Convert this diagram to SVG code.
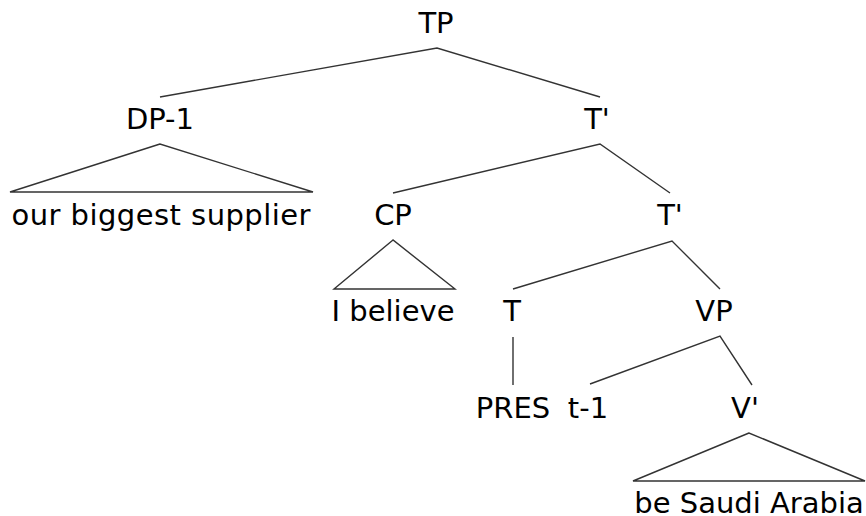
<svg xmlns="http://www.w3.org/2000/svg" width="866" height="516" viewBox="0 0 866 516">
  <style>
    .lbl { font-family: "DejaVu Sans", "Liberation Sans", sans-serif; font-size: 29px; fill: #000; text-anchor: middle; }
    .edge { fill: none; stroke: #333; stroke-width: 1.4; stroke-linejoin: miter; }
  </style>
  <rect width="866" height="516" fill="#fff"/>

  <!-- branches and roof triangles -->
  <g id="connectors">
    <polyline class="edge" points="160,97 437,48 600,97"/>
    <polygon class="edge" points="160,144 10,192 313,192"/>
    <polyline class="edge" points="393,193 600,144 670,193"/>
    <polygon class="edge" points="393,240 334,289 455,289"/>
    <polyline class="edge" points="513,289 672,241 720,289"/>
    <line class="edge" x1="513" y1="337" x2="513" y2="385"/>
    <polyline class="edge" points="590,384 720,336 752,385"/>
    <polygon class="edge" points="749,433 633,481 865,481"/>
  </g>

  <g id="tp"><text class="lbl" x="436" y="33">TP</text></g>
  <g id="dp1"><text class="lbl" x="160" y="129">DP-1</text></g>
  <g id="tbar1"><text class="lbl" x="597" y="129">T'</text></g>
  <g id="dp1-leaf"><text class="lbl" x="161" y="225" textLength="299" lengthAdjust="spacing">our biggest supplier</text></g>
  <g id="cp"><text class="lbl" x="393" y="225">CP</text></g>
  <g id="tbar2"><text class="lbl" x="670" y="225">T'</text></g>
  <g id="cp-leaf"><text class="lbl" x="393" y="321">I believe</text></g>
  <g id="t"><text class="lbl" x="512" y="321">T</text></g>
  <g id="vp"><text class="lbl" x="714" y="321">VP</text></g>
  <g id="pres"><text class="lbl" x="513" y="418">PRES</text></g>
  <g id="trace"><text class="lbl" x="588" y="418">t-1</text></g>
  <g id="vbar"><text class="lbl" x="745" y="418">V'</text></g>
  <g id="vbar-leaf"><text class="lbl" x="749" y="513">be Saudi Arabia</text></g>
</svg>
